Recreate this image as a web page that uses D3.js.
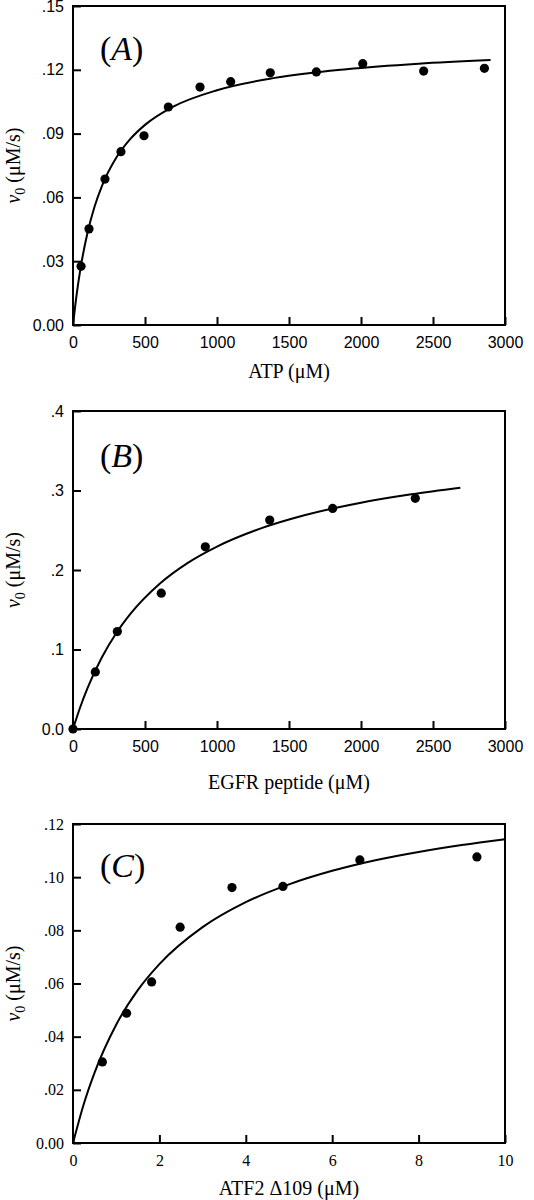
<!DOCTYPE html>
<html><head><meta charset="utf-8">
<script src="https://cdn.jsdelivr.net/npm/d3@7"></script>
<style>body{margin:0;background:#fff}svg{display:block}</style>
</head><body>
<svg id="c" width="534" height="1200"></svg>
<script>
// ---- Panel A: ATP ----
const atpX = [56, 111, 222, 333, 493, 662, 882, 1095, 1370, 1690, 2012, 2435, 2857];
const atpY = [0.0276, 0.0452, 0.0686, 0.0815, 0.0890, 0.1025, 0.1119, 0.1144, 0.1186, 0.1190, 0.1229, 0.1194, 0.1207];
const atpFitX = [0, 25, 50, 100, 150, 200, 300, 400, 500, 700, 1000, 1400, 1900, 2400, 2900];
const atpFitY = [0, 0.0142, 0.0257, 0.0431, 0.0557, 0.0652, 0.0786, 0.0876, 0.0941, 0.1028, 0.1104, 0.1162, 0.1203, 0.1229, 0.1246];
const atpXTicks = [0, 500, 1000, 1500, 2000, 2500, 3000];
const atpYTicks = [0, 0.03, 0.06, 0.09, 0.12, 0.15];
const atpYLabels = ["0.00", ".03", ".06", ".09", ".12", ".15"];

// ---- Panel B: EGFR peptide ----
const egfrX = [0, 155, 308, 613, 919, 1366, 1803, 2377];
const egfrY = [0, 0.0718, 0.1226, 0.1708, 0.2292, 0.2628, 0.2775, 0.2901];
const egfrFitX = [0, 50, 100, 200, 300, 400, 600, 800, 1000, 1300, 1600, 2000, 2350, 2690];
const egfrFitY = [0, 0.0274, 0.0511, 0.0899, 0.1204, 0.1450, 0.1823, 0.2092, 0.2294, 0.2520, 0.2685, 0.2847, 0.2952, 0.3034];
const egfrXTicks = [0, 500, 1000, 1500, 2000, 2500, 3000];
const egfrYTicks = [0, 0.1, 0.2, 0.3, 0.4];
const egfrYLabels = ["0.0", ".1", ".2", ".3", ".4"];

// ---- Panel C: ATF2 Δ109 ----
const atf2X = [0.68, 1.24, 1.82, 2.48, 3.68, 4.86, 6.64, 9.35];
const atf2Y = [0.0305, 0.0488, 0.0606, 0.0812, 0.0961, 0.0965, 0.1065, 0.1076];
const atf2FitX = [0, 0.25, 0.5, 1, 1.5, 2, 3, 4, 5, 6, 7, 8, 9, 10];
const atf2FitY = [0, 0.0147, 0.0265, 0.0445, 0.0575, 0.0673, 0.0812, 0.0906, 0.0973, 0.1024, 0.1064, 0.1095, 0.1121, 0.1143];
const atf2XTicks = [0, 2, 4, 6, 8, 10];
const atf2YTicks = [0, 0.02, 0.04, 0.06, 0.08, 0.10, 0.12];
const atf2YLabels = ["0.00", ".02", ".04", ".06", ".08", ".10", ".12"];

const sans = "'Liberation Sans', Arial, sans-serif";
const serif = "'Liberation Serif', 'Times New Roman', serif";

const panels = [
  {label:"A", xs:atpX, ys:atpY, fx:atpFitX, fy:atpFitY, xd:[0,3000], yd:[0,0.15],
   xt:atpXTicks, yt:atpYTicks, yl:atpYLabels, top:6, bottom:325, title:"ATP (μM)", titleY:378,
   labY:60, tickFont:sans},
  {label:"B", xs:egfrX, ys:egfrY, fx:egfrFitX, fy:egfrFitY, xd:[0,3000], yd:[0,0.4],
   xt:egfrXTicks, yt:egfrYTicks, yl:egfrYLabels, top:411, bottom:729, title:"EGFR peptide (μM)", titleY:789,
   labY:467, tickFont:sans},
  {label:"C", xs:atf2X, ys:atf2Y, fx:atf2FitX, fy:atf2FitY, xd:[0,10], yd:[0,0.12],
   xt:atf2XTicks, yt:atf2YTicks, yl:atf2YLabels, top:824, bottom:1143, title:"ATF2 Δ109 (μM)", titleY:1195,
   labY:877, tickFont:serif}
];

const svg = d3.select("#c");
const L = 73, R = 505;

panels.forEach(p => {
  const x = d3.scaleLinear().domain(p.xd).range([L, R]);
  const y = d3.scaleLinear().domain(p.yd).range([p.bottom, p.top]);
  const g = svg.append("g");

  const xa = g.append("g").attr("transform", `translate(0,${p.bottom})`)
    .call(d3.axisBottom(x).tickValues(p.xt).tickFormat(d3.format("d")).tickSizeInner(-8).tickSizeOuter(0).tickPadding(12));
  const ya = g.append("g").attr("transform", `translate(${L},0)`)
    .call(d3.axisLeft(y).tickValues(p.yt).tickFormat((d,i)=>p.yl[i]).tickSizeInner(-8).tickSizeOuter(0).tickPadding(9));
  [xa, ya].forEach(a => {
    a.attr("font-family", null).attr("font-size", null);
    a.select(".domain").remove();
    a.selectAll(".tick line").attr("stroke", "#000").attr("stroke-width", 2);
    a.selectAll(".tick text").style("font-family", p.tickFont).style("font-size", "16px").attr("fill", "#000");
  });

  g.append("rect").attr("x", L).attr("y", p.top).attr("width", R - L).attr("height", p.bottom - p.top)
    .attr("fill", "none").attr("stroke", "#000").attr("stroke-width", 2);

  const line = d3.line().x(d => x(d[0])).y(d => y(d[1])).curve(d3.curveMonotoneX);
  g.append("path").datum(p.fx.map((v,i)=>[v, p.fy[i]])).attr("d", line)
    .attr("fill", "none").attr("stroke", "#000").attr("stroke-width", 2);

  g.selectAll("circle.pt").data(p.xs.map((v,i)=>[v, p.ys[i]])).join("circle")
    .attr("class","pt").attr("cx", d => x(d[0])).attr("cy", d => y(d[1])).attr("r", 4.6).attr("fill", "#000");

  g.append("text").attr("x", (L+R)/2).attr("y", p.titleY).attr("text-anchor", "middle")
    .style("font-family", serif).style("font-size", "20px").attr("fill", "#000").text(p.title);

  const yl = g.append("text").attr("transform", `translate(20,${(p.top+p.bottom)/2}) rotate(-90)`)
    .attr("text-anchor", "middle").style("font-family", serif).style("font-size", "20px").attr("fill", "#000");
  yl.append("tspan").style("font-style", "italic").text("v");
  yl.append("tspan").style("font-size", "14px").attr("dy", 5).text("0");
  yl.append("tspan").attr("dy", -5).text(" (μM/s)");

  const lab = g.append("text").attr("x", 100).attr("y", p.labY).style("font-family", serif).style("font-size", "34px").attr("fill", "#000");
  lab.append("tspan").text("(");
  lab.append("tspan").style("font-style", "italic").text(p.label);
  lab.append("tspan").text(")");
});
</script>
</body></html>
